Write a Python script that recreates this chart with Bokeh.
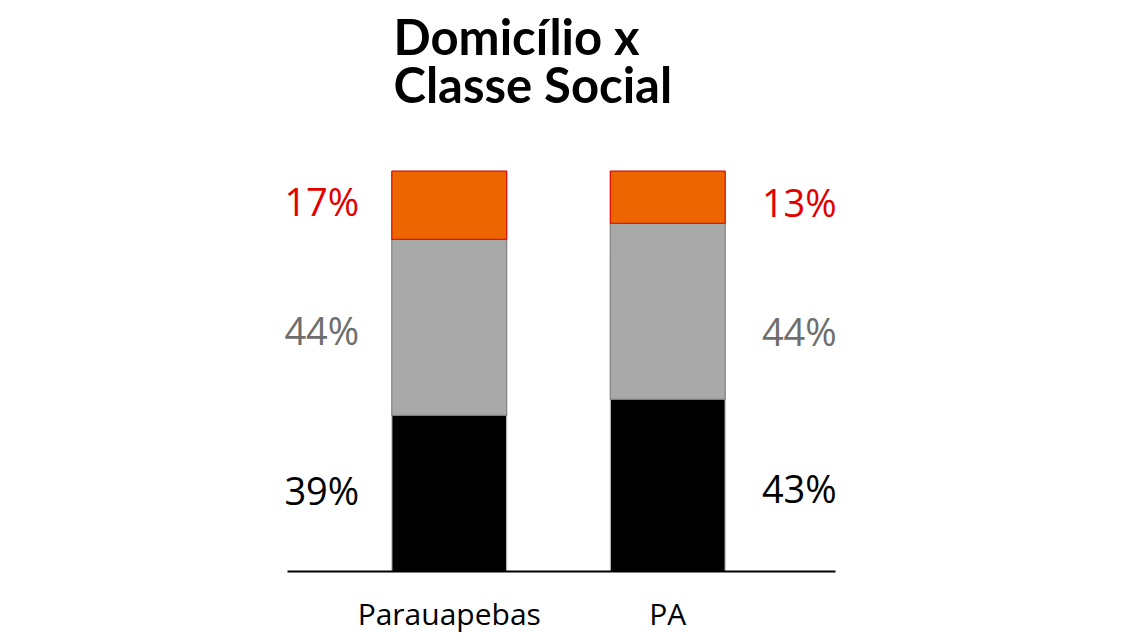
from bokeh.plotting import figure
from bokeh.models import ColumnDataSource, FactorRange, Range1d, Label
from bokeh.core.properties import value
from bokeh.embed import file_html
from bokeh.resources import INLINE

# ---- data ----
categories = ["Parauapebas", "PA"]
classes = ["Classe D/E", "Classe C", "Classe A/B"]
classe_de = [39, 43]
classe_c = [44, 44]
classe_ab = [17, 13]

title_lines = ["Domicílio x", "Classe Social"]

# ---- styles ----
fill_colors = ["#000000", "#A9A9A9", "#EB6600"]
line_colors = ["#C8C8C8", "#7F7F7F", "#E20000"]
label_colors = ["#000000", "#6E6E6E", "#E20000"]
label_y_left = [20.3, 60.3, 92.5]   # label positions (percent units)
label_y_right = [20.9, 60.0, 92.4]

source = ColumnDataSource(data=dict(
    cat=categories,
    **{classes[0]: classe_de, classes[1]: classe_c, classes[2]: classe_ab},
))

y_top = 100 * 572 / 401.0

p = figure(
    x_range=FactorRange(*categories, range_padding=0.3455, range_padding_units="absolute"),
    y_range=Range1d(0, y_top),
    width=1126, height=636,
    min_border_left=264, min_border_right=274, min_border_top=0, min_border_bottom=64,
    output_backend="svg", toolbar_location=None,
    y_axis_location=None,
)

p.vbar_stack(classes, x="cat", width=0.526, source=source,
             fill_color=fill_colors, line_color=line_colors, line_width=1.2)

# value labels
series = [classe_de, classe_c, classe_ab]
left = ColumnDataSource(data=dict(
    x=[categories[0]] * 3,
    y=label_y_left,
    text=[f"{s[0]}%" for s in series],
    color=label_colors,
))
right = ColumnDataSource(data=dict(
    x=[categories[1]] * 3,
    y=label_y_right,
    text=[f"{s[1]}%" for s in series],
    color=label_colors,
))
p.text(x="x", y="y", text="text", source=left, text_color="color",
       text_align="right", text_baseline="middle", x_offset=-90,
       text_font=value("Open Sans"), text_font_size="38px")
p.text(x="x", y="y", text="text", source=right, text_color="color",
       text_align="right", text_baseline="middle", x_offset=169,
       text_font=value("Open Sans"), text_font_size="38px")

# title
title_y = [536, 488]
for line, ty in zip(title_lines, title_y):
    p.add_layout(Label(x=129, y=ty, x_units="screen", y_units="screen",
                       text=line, text_font="Lato", text_font_size="49px",
                       text_font_style="bold", text_color="#000000",
                       text_baseline="alphabetic", text_align="left"))

p.xgrid.visible = False
p.ygrid.visible = False
p.outline_line_color = None
p.xaxis.bounds = (-0.241, 2.269)
p.xaxis.axis_line_color = "#000000"
p.xaxis.axis_line_width = 2
p.xaxis.major_tick_line_color = None
p.xaxis.minor_tick_line_color = None
p.xaxis.major_label_text_font = "Open Sans"
p.xaxis.major_label_text_font_size = "30px"
p.xaxis.major_label_text_color = "#000000"
p.xaxis.major_label_standoff = 15

open("out.html", "w").write(file_html(p, INLINE))
